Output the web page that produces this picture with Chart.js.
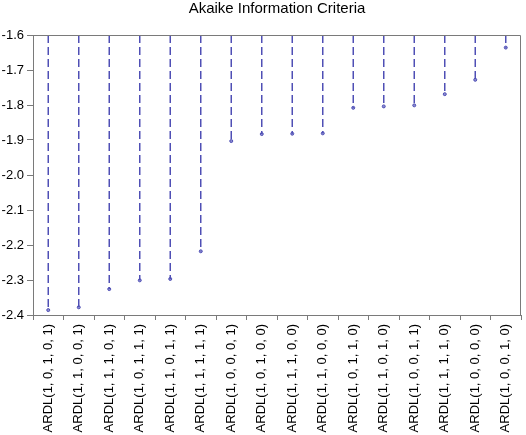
<!DOCTYPE html>
<html>
<head>
<meta charset="utf-8">
<script src="https://cdn.jsdelivr.net/npm/chart.js@4"></script>
<style>
  html, body { margin: 0; padding: 0; background: #fff; }
</style>
</head>
<body>
<canvas id="aicChart" width="526" height="435"></canvas>
<script>
const models = [
  "ARDL(1, 0, 1, 0, 1)", "ARDL(1, 1, 0, 0, 1)", "ARDL(1, 1, 1, 0, 1)", "ARDL(1, 0, 1, 1, 1)",
  "ARDL(1, 1, 0, 1, 1)", "ARDL(1, 1, 1, 1, 1)", "ARDL(1, 0, 0, 0, 1)", "ARDL(1, 0, 1, 0, 0)",
  "ARDL(1, 1, 1, 0, 0)", "ARDL(1, 1, 0, 0, 0)", "ARDL(1, 0, 1, 1, 0)", "ARDL(1, 1, 0, 1, 0)",
  "ARDL(1, 0, 0, 1, 1)", "ARDL(1, 1, 1, 1, 0)", "ARDL(1, 0, 0, 0, 0)", "ARDL(1, 0, 0, 1, 0)"
];
const aicValues = [
  -2.386, -2.378, -2.326, -2.301, -2.297, -2.218, -1.903, -1.883,
  -1.882, -1.881, -1.808, -1.804, -1.801, -1.769, -1.728, -1.636
];
const yMin = -2.4;
const yMax = -1.6;
const yStep = 0.1;

const lineColor = "#4f4fb5";
const axisColor = "#7a7a7a";
const font = { family: "'Liberation Sans', Arial, sans-serif", size: 13 };

// each stem goes from the top of the axis down to the criterion value
const stems = [];
models.forEach((m, i) => {
  stems.push({ x: m, y: yMax }, { x: m, y: aicValues[i] }, { x: m, y: null });
});

const framePlugin = {
  id: "frame",
  afterDraw(chart) {
    const { ctx, chartArea: a } = chart;
    ctx.save();
    ctx.strokeStyle = axisColor;
    ctx.lineWidth = 1;
    ctx.beginPath();
    ctx.moveTo(Math.round(a.left) + 0.5, Math.round(a.top) + 0.5);
    ctx.lineTo(Math.round(a.right) - 0.5, Math.round(a.top) + 0.5);
    ctx.lineTo(Math.round(a.right) - 0.5, Math.round(a.bottom) + 0.5);
    ctx.stroke();
    ctx.restore();
  }
};

new Chart(document.getElementById("aicChart").getContext("2d"), {
  type: "line",
  data: {
    labels: models,
    datasets: [
      {
        data: stems,
        borderColor: lineColor,
        borderWidth: 1.5,
        borderDash: [8, 4],
        pointRadius: 0,
        spanGaps: false,
        fill: false
      },
      {
        data: aicValues,
        showLine: false,
        pointRadius: 1.5,
        pointBorderWidth: 1,
        pointBorderColor: lineColor,
        pointBackgroundColor: "#8c8cd0"
      }
    ]
  },
  options: {
    responsive: false,
    animation: false,
    layout: { padding: { top: 0, right: 3, left: 0, bottom: 0 } },
    plugins: {
      legend: { display: false },
      tooltip: { enabled: false },
      title: {
        display: true,
        fullSize: false,
        text: "Akaike Information Criteria",
        color: "#000",
        font: { family: font.family, size: 15, weight: "normal" },
        padding: { top: 0, bottom: 17 }
      }
    },
    scales: {
      x: {
        offset: true,
        grid: { offset: true, drawOnChartArea: false, tickLength: 5, color: axisColor },
        border: { color: axisColor },
        ticks: { autoSkip: false, minRotation: 90, maxRotation: 90, padding: 4, color: "#000", font: font },
        afterFit: (s) => { s.height = 120; }
      },
      y: {
        min: yMin,
        max: yMax,
        grid: { drawOnChartArea: false, tickLength: 6, color: axisColor },
        border: { color: axisColor },
        ticks: { stepSize: yStep, padding: 3, color: "#000", font: font, callback: (v) => v.toFixed(1) },
        afterFit: (s) => { s.width = 33; }
      }
    }
  },
  plugins: [framePlugin]
});
</script>
</body>
</html>
